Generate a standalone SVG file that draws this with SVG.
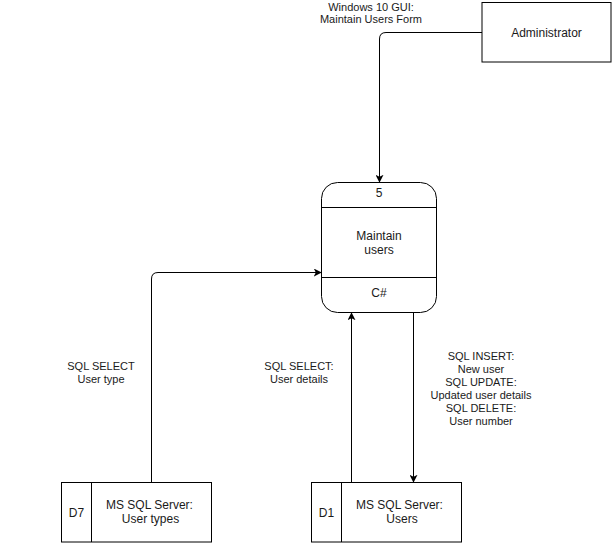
<svg xmlns="http://www.w3.org/2000/svg" width="613" height="543" viewBox="0 0 613 543">
<style>
.t{font-family:"Liberation Sans",Arial,sans-serif;font-size:11px;fill:#1a1a1a;text-anchor:middle}
.n{font-family:"Liberation Sans",Arial,sans-serif;font-size:12px;fill:#1a1a1a;text-anchor:middle}
.box{fill:#fff;stroke:#000;stroke-width:1}
.ln{fill:none;stroke:#000;stroke-width:1}
</style>
<defs>
<marker id="arr" viewBox="0 0 10 10" refX="9" refY="5" markerWidth="8" markerHeight="8" markerUnits="userSpaceOnUse" orient="auto">
<path d="M0,0 L10,5 L0,10 L2.5,5 Z" fill="#000"/>
</marker>
</defs>
<rect width="613" height="543" fill="#fff"/>
<g id="connectors">
<path class="ln" d="M482,32.5 H386 Q379.5,32.5 379.5,39 V182" marker-end="url(#arr)"/>
<path class="ln" d="M151.5,482 V279 Q151.5,272.5 158,272.5 H321" marker-end="url(#arr)"/>
<path class="ln" d="M351.5,482 V313" marker-end="url(#arr)"/>
<path class="ln" d="M413.5,312 V482" marker-end="url(#arr)"/>
<g id="labels">
<text class="t" x="371" y="10.5">Windows 10 GUI:</text>
<text class="t" x="371" y="22.5">Maintain Users Form</text>
<text class="t" x="101" y="370">SQL SELECT</text>
<text class="t" x="101" y="383">User type</text>
<text class="t" x="299" y="370">SQL SELECT:</text>
<text class="t" x="299" y="383">User details</text>
<text class="t" x="481" y="360">SQL INSERT:</text>
<text class="t" x="481" y="373">New user</text>
<text class="t" x="481" y="386">SQL UPDATE:</text>
<text class="t" x="481" y="399">Updated user details</text>
<text class="t" x="481" y="412">SQL DELETE:</text>
<text class="t" x="481" y="425">User number</text>
</g>
</g>
<g id="administrator">
<rect class="box" x="482" y="2.5" width="129" height="59.5"/>
<text class="n" x="546.5" y="37">Administrator</text>
</g>
<g id="process5">
<rect class="box" x="321.5" y="182.5" width="115" height="130" rx="16" ry="16"/>
<line class="ln" x1="321.5" y1="207.5" x2="436.5" y2="207.5"/>
<line class="ln" x1="321.5" y1="277.5" x2="436.5" y2="277.5"/>
<text class="n" x="379" y="197">5</text>
<text class="n" x="379" y="240">Maintain</text>
<text class="n" x="379" y="254">users</text>
<text class="n" x="379" y="297">C#</text>
</g>
<g id="d7">
<rect class="box" x="61.5" y="482.5" width="150" height="59.5"/>
<line class="ln" x1="91.5" y1="482.5" x2="91.5" y2="542"/>
<text class="n" x="76.5" y="516.5">D7</text>
<text class="n" x="149.5" y="508.5">MS SQL Server:</text>
<text class="n" x="150.5" y="522.5">User types</text>
</g>
<g id="d1">
<rect class="box" x="311.5" y="482.5" width="150" height="59.5"/>
<line class="ln" x1="341.5" y1="482.5" x2="341.5" y2="542"/>
<text class="n" x="326.5" y="516.5">D1</text>
<text class="n" x="399.5" y="508.5">MS SQL Server:</text>
<text class="n" x="402" y="522.5">Users</text>
</g>
</svg>
